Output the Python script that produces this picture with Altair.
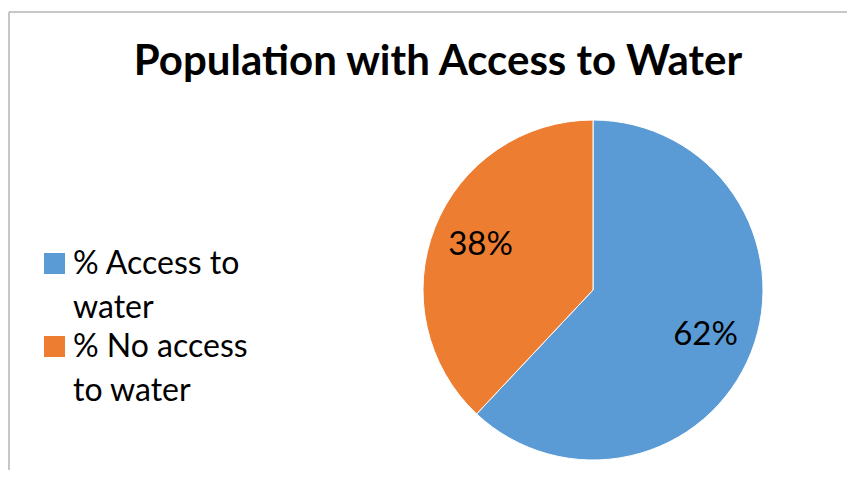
import altair as alt
import pandas as pd

title_text = "Population with Access to Water"
categories = ["% Access to water", "% No access to water"]
legend_labels = ["% Access to\nwater", "% No access\nto water"]
values = [62, 38]
pct_labels = ["62%", "38%"]
colors = ["#5b9bd5", "#ed7d31"]

df = pd.DataFrame({
    "category": categories,
    "legend": legend_labels,
    "value": values,
    "pct": pct_labels,
    "order": [0, 1],
})

W, H = 839, 462
FONT = "Lato"
color_scale = alt.Scale(domain=categories, range=colors)

base = alt.Chart(df)

pie = base.mark_arc(stroke="white", strokeWidth=1).encode(
    theta=alt.Theta("value:Q", stack=True),
    order=alt.Order("order:Q"),
    color=alt.Color("category:N", scale=color_scale, legend=None),
    x=alt.value(585), y=alt.value(282),
    radius=alt.value(170),
)

labels = base.mark_text(font=FONT, fontSize=33, color="black", align="center", baseline="middle").encode(
    theta=alt.Theta("value:Q", stack=True),
    order=alt.Order("order:Q"),
    text="pct:N",
    x=alt.value(585), y=alt.value(282),
    radius=alt.value(121),
)

legend_y = alt.Y("category:N", scale=alt.Scale(domain=categories, range=[255.5, 338.5], type="point", padding=0), axis=None)

leg_sq = base.mark_square(size=441, opacity=1).encode(
    x=alt.value(46.5),
    y=legend_y,
    color=alt.Color("category:N", scale=color_scale, legend=None),
)

leg_txt = base.mark_text(font=FONT, fontSize=32, color="black", align="left", baseline="alphabetic",
                         lineBreak="\n", lineHeight=44, dy=10).encode(
    x=alt.value(65),
    y=legend_y,
    text="legend:N",
)

title = alt.Chart(pd.DataFrame({"t": [title_text]})).mark_text(
    font=FONT, fontSize=42, fontWeight="bold", color="black", align="center", baseline="alphabetic"
).encode(x=alt.value(430), y=alt.value(67), text="t:N")

border_top = alt.Chart(pd.DataFrame({"a": [0]})).mark_rule(color="#b4b4b4", strokeWidth=1.5).encode(
    x=alt.value(1), x2=alt.value(W), y=alt.value(4)
)
border_left = alt.Chart(pd.DataFrame({"a": [0]})).mark_rule(color="#b4b4b4", strokeWidth=1.5).encode(
    x=alt.value(1), y=alt.value(4), y2=alt.value(H)
)

chart = alt.layer(border_top, border_left, pie, labels, leg_sq, leg_txt, title).properties(
    width=W, height=H, autosize=alt.AutoSizeParams(type="none"), padding=0
).configure_view(stroke=None)

chart.save("out.html", embed_options={"renderer": "svg", "actions": False})
